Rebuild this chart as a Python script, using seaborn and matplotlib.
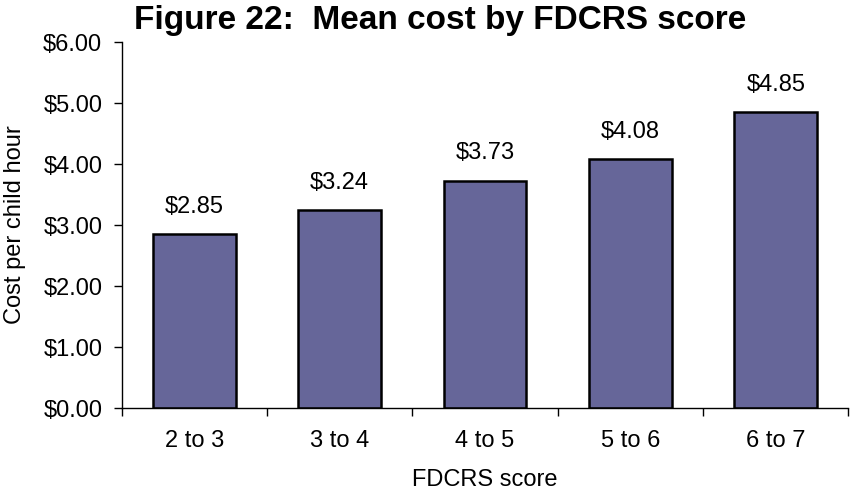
import seaborn as sns
import matplotlib.pyplot as plt
import numpy as np

# FDCRS score bands and mean cost per child hour
scores = ['2 to 3', '3 to 4', '4 to 5', '5 to 6', '6 to 7']
mean_cost = [2.85, 3.24, 3.73, 4.08, 4.85]

sns.set_style('white')
plt.rcParams['font.family'] = ['Liberation Sans', 'DejaVu Sans']
plt.rcParams.update({'text.color': 'black', 'axes.labelcolor': 'black',
                     'xtick.color': 'black', 'ytick.color': 'black'})

fig = plt.figure(figsize=(8.51, 4.91), dpi=100)
ax = fig.add_axes([0.143, 0.169, 0.854, 0.745])

sns.barplot(x=scores, y=mean_cost, color='#666699', saturation=1, width=0.57,
            edgecolor='black', linewidth=1.8, ax=ax)

for i, v in enumerate(mean_cost):
    ax.text(i, v + 0.27, f"${v:.2f}", ha='center', va='bottom', fontsize=17)

ax.set_ylim(0, 6)
ax.set_xlim(-0.5, len(scores) - 0.5)
ax.set_yticks(np.arange(0, 7, 1))
ax.set_yticklabels([f"${t:.2f}" for t in range(7)], fontsize=17)
ax.tick_params(axis='y', direction='out', length=6, width=1, left=True, pad=8)
ax.tick_params(axis='x', which='major', length=0, labelsize=17, pad=16)
ax.set_xticks(np.arange(-0.5, len(scores), 1), minor=True)
ax.tick_params(axis='x', which='minor', direction='out', length=6, width=1, bottom=True)

for s in ['top', 'right']:
    ax.spines[s].set_visible(False)
for s in ['left', 'bottom']:
    ax.spines[s].set_color('black')
    ax.spines[s].set_linewidth(1)

ax.set_xlabel('FDCRS score', fontsize=17, labelpad=12)
ax.set_ylabel('Cost per child hour', fontsize=17, labelpad=12)

fig.text(440 / 851, 1 - 21 / 491, 'Figure 22:  Mean cost by FDCRS score',
         ha='center', va='center', fontsize=24, fontweight='bold')

fig.savefig('out.png', dpi=100)
